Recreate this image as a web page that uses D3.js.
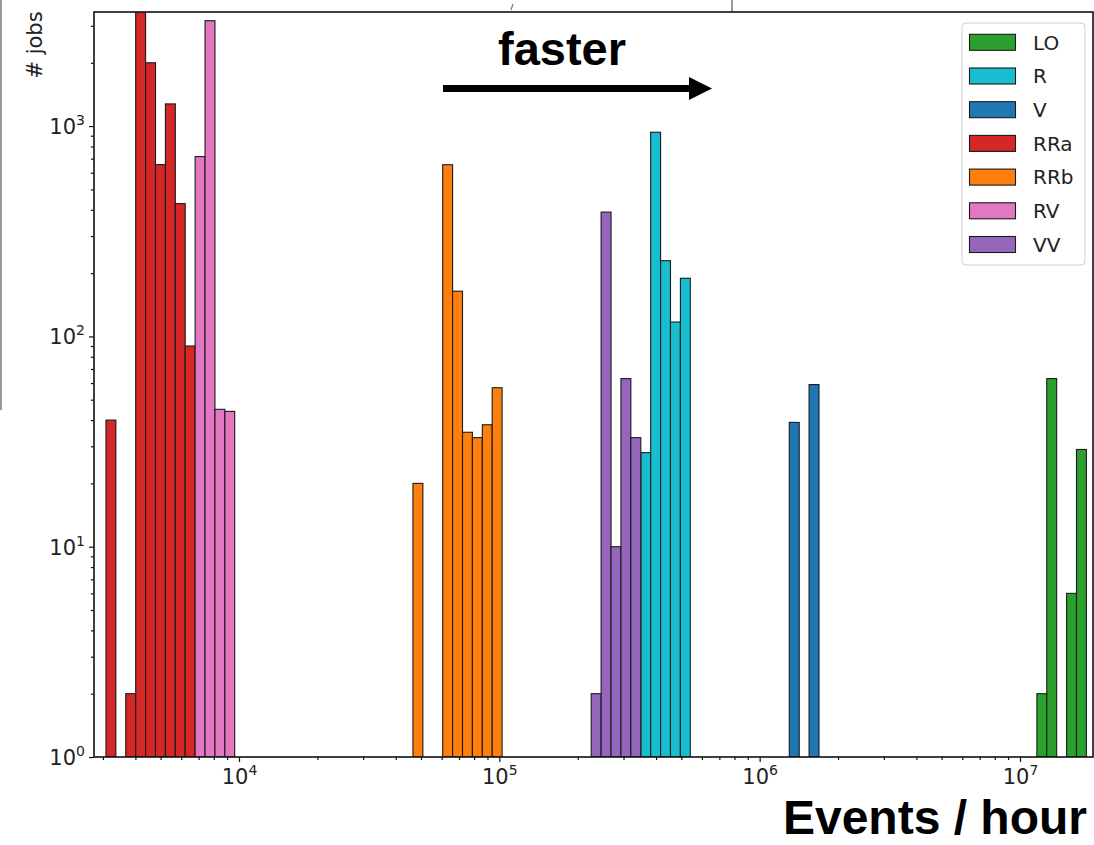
<!DOCTYPE html>
<html><head><meta charset="utf-8">
<script src="https://cdn.jsdelivr.net/npm/d3@7"></script>
<style>body{margin:0;background:#fff} svg{display:block}</style>
</head><body>
<svg id="c" width="1094" height="845"></svg>
<script>
// ---- data ----
const seriesNames  = ["LO", "R", "V", "RRa", "RRb", "RV", "VV"];
const seriesColors = ["#2ca02c", "#17becf", "#1f77b4", "#d62728", "#ff7f0e", "#e377c2", "#9467bd"];
// each bin: [lower edge (events/hour), upper edge, # jobs]
const binsLO  = [[11610000, 12670000, 2], [12670000, 13830000, 63], [15100000, 16480000, 6], [16480000, 17990000, 29]];
const binsR   = [[349400, 381400, 28], [381400, 416300, 935], [416300, 454400, 229], [454400, 496000, 117], [496000, 541400, 189]];
const binsV   = [[1299600, 1418500, 39], [1548100, 1690000, 59]];
const binsRRa = [[3083, 3365, 40], [3673, 4010, 2], [4010, 4377, 3700], [4377, 4778, 2000], [4778, 5215, 656], [5215, 5693, 1275], [5693, 6214, 428], [6214, 6783, 90]];
const binsRRb = [[46580, 50850, 20], [60590, 66140, 655], [66140, 72200, 164], [72200, 78800, 35], [78800, 86030, 33], [86030, 93880, 38], [93880, 102470, 57]];
const binsRV  = [[6783, 7405, 716], [7405, 8083, 3170], [8083, 8822, 45], [8822, 9628, 44]];
const binsVV  = [[225400, 246000, 2], [246000, 268600, 390], [268600, 293200, 10], [293200, 320000, 63], [320000, 349400, 33]];
const seriesBins = [binsLO, binsR, binsV, binsRRa, binsRRb, binsRV, binsVV];
const xMajorTicks = [1e4, 1e5, 1e6, 1e7];
const yMajorTicks = [1, 10, 100, 1000];
const xDomain = [Math.pow(10, 3.443), Math.pow(10, 7.2804)];
const yDomain = [1, Math.pow(10, 3.5425)];

// ---- layout ----
const L = 94, R = 1093, T = 12, B = 757;
const svg = d3.select("#c");
const x = d3.scaleLog().domain(xDomain).range([L, R]);
const y = d3.scaleLog().domain(yDomain).range([B, T]);

svg.append("defs").append("clipPath").attr("id", "plotclip")
  .append("rect").attr("x", L).attr("y", T).attr("width", R - L).attr("height", B - T);

// artifacts of the surrounding figure
svg.append("line").attr("x1", 1).attr("x2", 1).attr("y1", 0).attr("y2", 410).attr("stroke", "#9a9a9a").attr("stroke-width", 2);
svg.append("line").attr("x1", 732).attr("x2", 732).attr("y1", 0).attr("y2", 12).attr("stroke", "#555").attr("stroke-width", 1.2);
svg.append("line").attr("x1", 513).attr("x2", 511).attr("y1", 4).attr("y2", 10).attr("stroke", "#777").attr("stroke-width", 1.2);

// bars
const bars = svg.append("g").attr("clip-path", "url(#plotclip)");
seriesBins.forEach((bins, i) => {
  bars.selectAll(null).data(bins).enter().append("rect")
    .attr("x", d => x(d[0]))
    .attr("width", d => x(d[1]) - x(d[0]))
    .attr("y", d => y(d[2]))
    .attr("height", d => B - y(d[2]))
    .attr("fill", seriesColors[i])
    .attr("stroke", "#1a1a1a")
    .attr("stroke-width", 1.1);
});

// axes
function supLabel(sel, anchor) {
  sel.each(function(d) {
    const t = d3.select(this);
    t.text(null).attr("text-anchor", anchor);
    t.append("tspan").text("10");
    t.append("tspan").attr("dy", -9).attr("font-size", 14).text(Math.round(Math.log10(d)));
  });
}
const xMinor = x.ticks().filter(v => !xMajorTicks.includes(v) && v >= xDomain[0] && v <= xDomain[1]);
const yMinor = y.ticks().filter(v => !yMajorTicks.includes(v));

const gx = svg.append("g").attr("transform", `translate(0,${B})`);
gx.call(d3.axisBottom(x).tickValues(xMinor).tickSize(3).tickFormat(""));
const gx2 = svg.append("g").attr("transform", `translate(0,${B})`);
gx2.call(d3.axisBottom(x).tickValues(xMajorTicks).tickSize(5).tickPadding(7));
gx2.selectAll(".tick text").attr("font-size", 21).attr("font-family", "DejaVu Sans").attr("fill", "#222").call(supLabel, "middle");

const gy = svg.append("g").attr("transform", `translate(${L},0)`);
gy.call(d3.axisLeft(y).tickValues(yMinor).tickSize(3).tickFormat(""));
const gy2 = svg.append("g").attr("transform", `translate(${L},0)`);
gy2.call(d3.axisLeft(y).tickValues(yMajorTicks).tickSize(5).tickPadding(4));
gy2.selectAll(".tick text").attr("font-size", 21).attr("font-family", "DejaVu Sans").attr("fill", "#222").attr("dy", "0.36em").call(supLabel, "end");

[gx, gx2, gy, gy2].forEach(g => { g.select(".domain").remove(); g.selectAll(".tick line").attr("stroke", "#111").attr("stroke-width", 1.2); });

// spines
svg.append("rect").attr("x", L).attr("y", T).attr("width", R - L).attr("height", B - T)
  .attr("fill", "none").attr("stroke", "#111").attr("stroke-width", 1.6);

// y label
svg.append("text").attr("transform", "translate(42,45) rotate(-90)")
  .attr("text-anchor", "middle").attr("font-family", "DejaVu Sans").attr("font-size", 21).attr("fill", "#222")
  .text("# jobs");

// x label
svg.append("text").attr("x", 1087).attr("y", 834).attr("text-anchor", "end")
  .attr("font-family", "Liberation Sans, Arial, sans-serif").attr("font-weight", "bold").attr("font-size", 48)
  .attr("fill", "#000")
  .text("Events / hour");

// "faster" annotation
svg.append("text").attr("x", 562).attr("y", 65).attr("text-anchor", "middle")
  .attr("font-family", "Liberation Sans, Arial, sans-serif").attr("font-weight", "bold").attr("font-size", 47)
  .attr("fill", "#000").text("faster");
svg.append("line").attr("x1", 443).attr("x2", 690).attr("y1", 88.5).attr("y2", 88.5).attr("stroke", "#000").attr("stroke-width", 7);
svg.append("path").attr("d", "M689,77 L712,88.5 L689,100 Z").attr("fill", "#000");

// legend
const lg = svg.append("g");
lg.append("rect").attr("x", 962).attr("y", 23).attr("width", 123).attr("height", 242).attr("rx", 4)
  .attr("fill", "#fff").attr("fill-opacity", 0.8).attr("stroke", "#d0d0d0").attr("stroke-width", 1);
seriesNames.forEach((n, i) => {
  const cy = 42.3 + i * 33.7;
  lg.append("rect").attr("x", 969.5).attr("y", cy - 8).attr("width", 46).attr("height", 16)
    .attr("fill", seriesColors[i]).attr("stroke", "#1a1a1a").attr("stroke-width", 1.1);
  lg.append("text").attr("x", 1033).attr("y", cy).attr("dy", "0.36em")
    .attr("font-family", "DejaVu Sans").attr("font-size", 20).attr("fill", "#222").text(n);
});
</script>
</body></html>
